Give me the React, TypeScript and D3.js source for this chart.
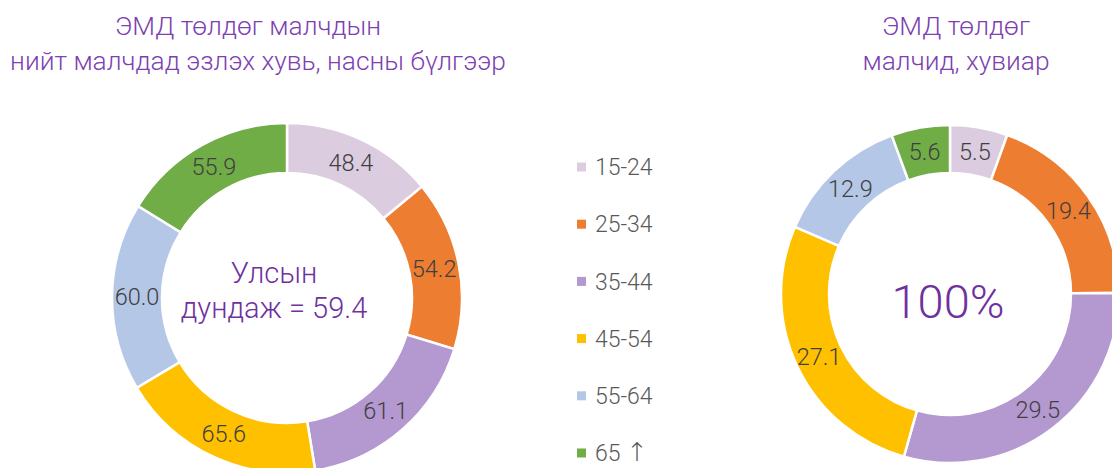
import React from "react";
import * as d3 from "d3";

const categories = ["15-24", "25-34", "35-44", "45-54", "55-64", "65 ↑"];
const colors = ["#DCCCE0", "#ED7D31", "#B498D0", "#FFC000", "#B4C7E7", "#70AD47"];
const shareOfAll = [48.4, 54.2, 61.1, 65.6, 60.0, 55.9];
const shareOfPayers = [5.5, 19.4, 29.5, 27.1, 12.9, 5.6];
const leftTitle = ["ЭМД төлдөг малчдын", "нийт малчдад эзлэх хувь, насны бүлгээр"];
const rightTitle = ["ЭМД төлдөг", "малчид, хувиар"];
const leftCenter = ["Улсын", "дундаж = 59.4"];
const rightCenter = "100%";

const W = 1112;
const H = 468;
const FONT = "Roboto, 'Noto Sans', sans-serif";

function Donut({ values, cx, cy, rOuter, rInner }: { values: number[]; cx: number; cy: number; rOuter: number; rInner: number }) {
  const pie = d3.pie<number>().sort(null).value((d) => d);
  const arcs = pie(values);
  const arc = d3.arc<d3.PieArcDatum<number>>().innerRadius(rInner).outerRadius(rOuter);
  return (
    <g transform={`translate(${cx},${cy})`}>
      {arcs.map((a, i) => (
        <path key={i} d={arc(a) || ""} fill={colors[i]} stroke="#fff" strokeWidth={2.5} />
      ))}
      {arcs.map((a, i) => {
        const [x, y] = arc.centroid(a);
        return (
          <text key={"t" + i} x={x} y={y} dy="0.36em" textAnchor="middle" fontSize={23.5} fontWeight={300} fill="#404040" fontFamily={FONT}>
            {values[i].toFixed(1)}
          </text>
        );
      })}
    </g>
  );
}

function LegendLabel({ text }: { text: string }) {
  if (text.includes("↑")) {
    const base = text.replace("↑", "");
    return (
      <>
        {base}
        <tspan fontFamily="'DejaVu Sans', sans-serif" fontWeight={200} fontSize={26}>↑</tspan>
      </>
    );
  }
  return <>{text}</>;
}

export default function App() {
  const legendY = d3.scalePoint<string>().domain(categories).range([167, 453]);
  return (
    <svg width={W} height={H} style={{ position: "absolute", left: 0, top: 0, background: "#fff" }}>
      <rect width={W} height={H} fill="#fff" />
      <g fontFamily={FONT} fontWeight={300} fill="#7E3FB0" fontSize={26.3}>
        <text x={248} y={35} textAnchor="middle">{leftTitle[0]}</text>
        <text x={258} y={70} textAnchor="middle">{leftTitle[1]}</text>
        <text x={956} y={35} textAnchor="middle">{rightTitle[0]}</text>
        <text x={956} y={70} textAnchor="middle">{rightTitle[1]}</text>
      </g>
      <Donut values={shareOfAll} cx={287} cy={298} rOuter={175} rInner={125} />
      <Donut values={shareOfPayers} cx={950} cy={294} rOuter={169} rInner={121} />
      <g fontFamily={FONT} fontWeight={300} fill="#7030A0" fontSize={29} textAnchor="middle">
        <text x={274} y={283}>{leftCenter[0]}</text>
        <text x={274} y={318}>{leftCenter[1]}</text>
      </g>
      <text x={948} y={318} textAnchor="middle" fontFamily={FONT} fontWeight={300} fill="#7030A0" fontSize={47}>
        {rightCenter}
      </text>
      <g fontFamily={FONT} fontWeight={300} fontSize={23} fill="#595959">
        {categories.map((c, i) => (
          <g key={c} transform={`translate(577,${legendY(c)})`}>
            <rect x={0} y={-4.5} width={9} height={9} fill={colors[i]} />
            <text x={18} y={0} dy="0.36em"><LegendLabel text={c} /></text>
          </g>
        ))}
      </g>
    </svg>
  );
}
